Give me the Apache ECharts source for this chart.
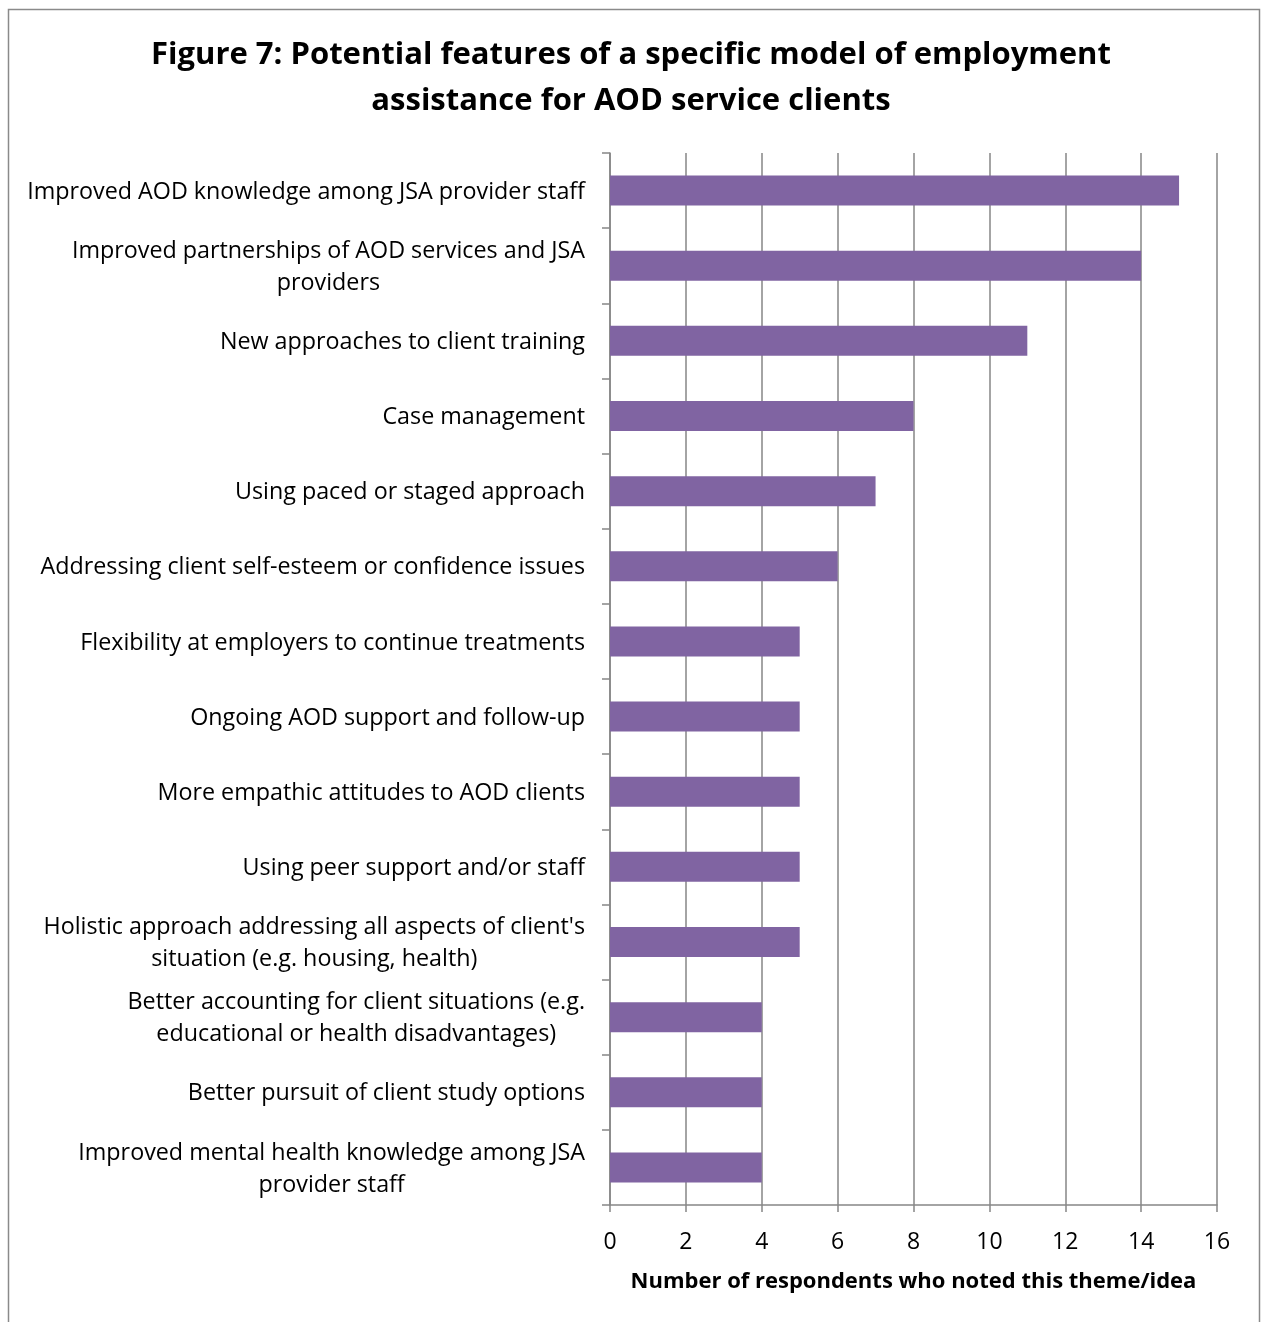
<!DOCTYPE html>
<html>
<head>
<meta charset="utf-8">
<script src="https://cdn.jsdelivr.net/npm/echarts@6/dist/echarts.min.js"></script>
<style>
  html, body { margin: 0; padding: 0; background: #ffffff; }
  #chart { width: 1262px; height: 1322px; }
</style>
</head>
<body>
<div id="chart"></div>
<script>
// categories, top to bottom as in the figure
var categories = [
    'Improved AOD knowledge among JSA provider staff',
    'Improved partnerships of AOD services and JSA\nproviders',
    'New approaches to client training',
    'Case management',
    'Using paced or staged approach',
    'Addressing client self-esteem or confidence issues',
    'Flexibility at employers to continue treatments',
    'Ongoing AOD support and follow-up',
    'More empathic attitudes to AOD clients',
    'Using peer support and/or staff',
    'Holistic approach addressing all aspects of client\'s\nsituation (e.g. housing, health)',
    'Better accounting for client situations (e.g.\neducational or health disadvantages)',
    'Better pursuit of client study options',
    'Improved mental health knowledge among JSA\nprovider staff'
];
// number of respondents
var respondents = [15, 14, 11, 8, 7, 6, 5, 5, 5, 5, 5, 4, 4, 4];
var xTicks = [0, 2, 4, 6, 8, 10, 12, 14, 16];

var titleText = 'Figure 7: Potential features of a specific model of employment\nassistance for AOD service clients';
var xName = 'Number of respondents who noted this theme/idea';

var font = 'Open Sans';
var axisGray = '#868686';

var myChart = echarts.init(document.getElementById('chart'));

myChart.setOption({
    animation: false,
    backgroundColor: '#ffffff',
    title: {
        text: titleText,
        left: 'center',
        top: 27,
        textStyle: {
            fontFamily: font,
            fontWeight: 'bold',
            fontSize: 31,
            lineHeight: 46,
            color: '#000'
        }
    },
    // frame around the whole figure
    graphic: [{
        type: 'rect',
        shape: { x: 8.5, y: 9.5, width: 1251, height: 1330 },
        style: { fill: null, stroke: '#8a8a8a', lineWidth: 1.5 },
        silent: true
    }],
    grid: {
        left: 610,
        right: 45,
        top: 153,
        bottom: 117
    },
    xAxis: {
        type: 'value',
        min: xTicks[0],
        max: xTicks[xTicks.length - 1],
        interval: 2,
        name: xName,
        nameLocation: 'middle',
        nameGap: 66,
        nameTextStyle: {
            fontFamily: font,
            fontWeight: 'bold',
            fontSize: 22,
            color: '#000'
        },
        axisLine: { show: true, lineStyle: { color: axisGray, width: 1.5 } },
        axisTick: { show: true, length: 7, lineStyle: { color: axisGray, width: 1.5 } },
        axisLabel: {
            fontFamily: font,
            fontSize: 23,
            color: '#000',
            margin: 26
        },
        splitLine: { show: true, lineStyle: { color: axisGray, width: 1.5 } }
    },
    yAxis: {
        type: 'category',
        data: categories,
        inverse: true,
        axisLine: { show: true, lineStyle: { color: axisGray, width: 1.5 } },
        axisTick: { show: true, length: 8, lineStyle: { color: axisGray, width: 1.5 } },
        axisLabel: {
            margin: 25,
            fontFamily: font,
            fontSize: 23.3,
            color: '#000',
            lineHeight: 32,
            padding: [0, 0, -3, 0],
            formatter: function (v) {
                // each line centred inside the right-aligned block
                return v.split('\n').map(function (l) { return '{c|' + l + '}'; }).join('\n');
            },
            rich: {
                c: {
                    align: 'center',
                    fontFamily: font,
                    fontSize: 23.3,
                    lineHeight: 32,
                    color: '#000'
                }
            }
        }
    },
    series: [{
        type: 'bar',
        data: respondents,
        barWidth: 30,
        itemStyle: { color: '#8064A2' }
    }]
});
</script>
</body>
</html>
